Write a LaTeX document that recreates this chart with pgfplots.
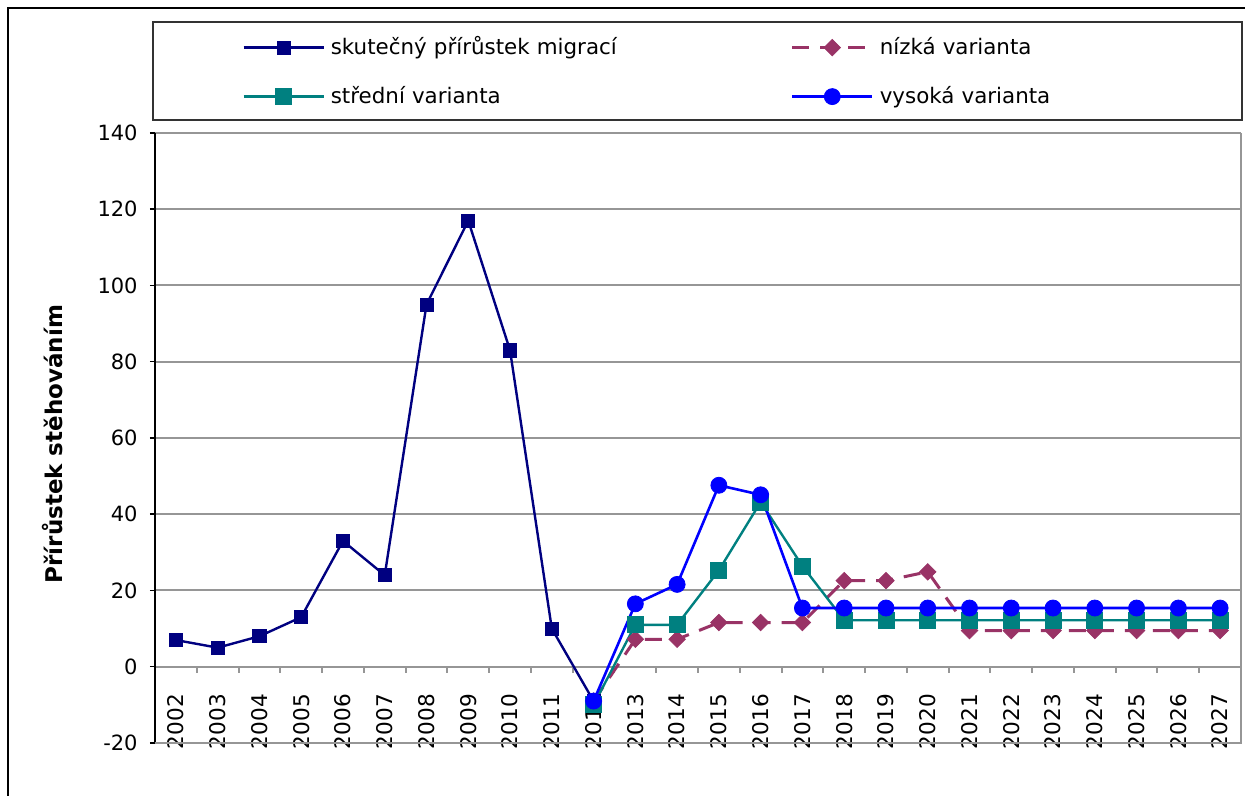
\documentclass[border=0pt]{standalone}
\usepackage{fontspec}
\setmainfont{DejaVu Sans}
\usepackage{pgfplots}
\pgfplotsset{compat=1.18}
\definecolor{cnavy}{RGB}{0,0,128}
\definecolor{cpurple}{RGB}{153,51,102}
\definecolor{cteal}{RGB}{0,128,128}
\definecolor{cblue}{RGB}{0,0,255}
\definecolor{cgrid}{RGB}{150,150,150}
\begin{document}
\begin{tikzpicture}
\useasboundingbox (-77.5pt,-26.5pt) rectangle (545pt,371.5pt);
\draw[line width=1.25pt] (-73.5pt,-40pt) -- (-73.5pt,367.5pt) -- (560pt,367.5pt);
\draw[line width=0.7pt, black!80] (-1pt,311.5pt) rectangle (543.5pt,360.5pt);
\begin{axis}[
  at={(0,0)}, anchor=south west,
  scale only axis, width=543pt, height=305pt,
  xmin=-0.5, xmax=25.5, ymin=-20, ymax=140,
  axis x line=middle, axis y line=left,
  x axis line style={-, cgrid, line width=1pt},
  y axis line style={-, black, line width=1pt},
  /pgf/number format/assume math mode=true,
  ytick={-20,0,...,140},
  ymajorgrids, grid style={cgrid, line width=1pt},
  ytick align=outside, major tick length=2.5pt,
  ytick style={black, line width=0.75pt},
  yticklabel style={anchor=east, inner sep=0pt, xshift=-6pt, font=\fontsize{10.5}{12}\selectfont},
  xtick={0,...,25},
  xticklabels={2002,2003,2004,2005,2006,2007,2008,2009,2010,2011,2012,2013,2014,2015,2016,2017,2018,2019,2020,2021,2022,2023,2024,2025,2026,2027},
  major x tick style={draw=none},
  minor xtick={-0.5,0.5,...,25.5},
  minor tick length=3pt,
  minor x tick style={cgrid, line width=1pt},
  xtick align=outside,
  xticklabel style={yshift=-11pt, rotate=90, anchor=east, inner sep=0pt, font=\fontsize{10.8}{12}\selectfont},
  ylabel={\bfseries Přírůstek stěhováním},
  ylabel style={at={(axis description cs:-0.0948,0.49)}, anchor=center, font=\fontsize{11.5}{13}\selectfont},
  legend columns=2,
  legend cell align=left,
  legend style={at={(0.08011,1.1552)}, anchor=north west, draw=none, fill=none, inner sep=0pt,
    column sep=3pt, row sep=14pt,
    nodes={inner sep=0pt, text width=227pt, font=\fontsize{10.7}{13}\selectfont, text height=8pt, text depth=2.5pt, yshift=-0.8pt}},
  legend image code/.code={\draw[mark repeat=2, mark phase=2, #1] plot coordinates {(0pt,0pt) (20pt,0pt) (40pt,0pt)};},
]
\addplot[cnavy, line width=1.2pt, mark=square*, mark size=3.3pt, mark options={fill=cnavy, draw=cnavy, line width=0.4pt}]
  coordinates {(0,7)(1,5)(2,8)(3,13)(4,33)(5,24)(6,95)(7,117)(8,83)(9,10)(10,-9)};
\addlegendentry{skutečný přírůstek migrací}
\addplot[cpurple, line width=1.5pt, dash pattern=on 8.5pt off 5.5pt, mark=square*, mark size=2.9pt, mark options={solid, rotate=45, fill=cpurple, draw=cpurple, line width=0.4pt}]
  coordinates {(10,-9)(11,7.2)(12,7.2)(13,11.6)(14,11.6)(15,11.6)(16,22.6)(17,22.6)(18,24.9)(19,9.5)(20,9.5)(21,9.5)(22,9.5)(23,9.5)(24,9.5)(25,9.5)};
\addlegendentry{nízká varianta}
\addplot[cteal, line width=1.2pt, mark=square*, mark size=4pt, mark options={fill=cteal, draw=cteal, line width=0.4pt}]
  coordinates {(10,-10)(11,11)(12,11)(13,25.3)(14,43.2)(15,26.4)(16,12.2)(17,12.2)(18,12.2)(19,12.2)(20,12.2)(21,12.2)(22,12.2)(23,12.2)(24,12.2)(25,12.2)};
\addlegendentry{střední varianta}
\addplot[cblue, line width=1.3pt, mark=*, mark size=4pt, mark options={fill=cblue, draw=cblue, line width=0.4pt}]
  coordinates {(10,-9)(11,16.5)(12,21.6)(13,47.6)(14,45.1)(15,15.4)(16,15.4)(17,15.4)(18,15.4)(19,15.4)(20,15.4)(21,15.4)(22,15.4)(23,15.4)(24,15.4)(25,15.4)};
\addlegendentry{vysoká varianta}
\end{axis}
\draw[cgrid, line width=1pt] (0,0) -- (543pt,0) -- (543pt,305pt);
\end{tikzpicture}
\end{document}
